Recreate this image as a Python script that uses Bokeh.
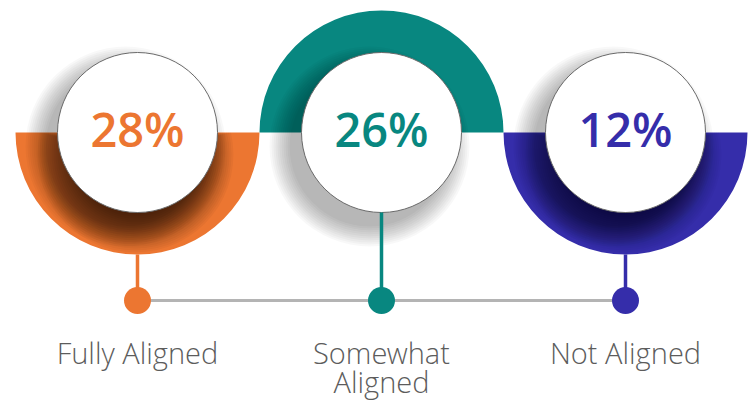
import math
from bokeh.plotting import figure
from bokeh.models import Range1d
from bokeh.core.properties import value
from bokeh.embed import file_html
from bokeh.resources import INLINE

# ---- data ----
categories = ["Fully Aligned", "Somewhat Aligned", "Not Aligned"]
label_lines = [["Fully Aligned"], ["Somewhat", "Aligned"], ["Not Aligned"]]
values = [28, 26, 12]
colors = ["#EC7631", "#088780", "#352DAA"]
ring_side = ["bottom", "top", "bottom"]

# ---- layout (reference-pixel space, y measured upward) ----
W, H = 750, 401
X0, STEP = 137, 244
CY = H - 132
R_OUT, R_CIRC = 122, 80
DOT_Y = H - 300
DOT_R = 13.5

xs = [X0 + i * STEP for i in range(len(values))]

p = figure(width=W, height=H, x_range=Range1d(0, W), y_range=Range1d(0, H),
           output_backend="svg", toolbar_location=None, min_border=0,
           x_axis_type=None, y_axis_type=None)
p.grid.visible = False
p.outline_line_color = None
p.background_fill_color = "white"
p.border_fill_color = "white"

starts = [math.pi if s == "bottom" else 0.0 for s in ring_side]
ends = [2 * math.pi if s == "bottom" else math.pi for s in ring_side]

# half rings
p.annular_wedge(x=xs, y=[CY] * 3, inner_radius=70, outer_radius=R_OUT,
                start_angle=starts, end_angle=ends, fill_color=colors,
                line_color=None)

# soft drop shadow of the white circles
SDX, SDY = -12, -14
for k in range(11):
    p.circle(x=[x + SDX for x in xs], y=[CY + SDY] * 3, radius=R_CIRC + 2 * k,
             fill_color="black", fill_alpha=0.026, line_color=None)

# inner shading on the lower half rings
RDX, RDY = -2, -22
for i, s in enumerate(ring_side):
    if s != "bottom":
        continue
    a = 0.034 if i == 0 else 0.022
    for k in range(20):
        r = 60 + 2 * k
        tilt = math.asin(min(1.0, -RDY / r))
        p.wedge(x=[xs[i] + RDX], y=[CY + RDY], radius=r,
                start_angle=math.pi - tilt, end_angle=2 * math.pi + tilt,
                fill_color="black", fill_alpha=a, line_color=None)

# white circles
p.circle(x=xs, y=[CY] * 3, radius=R_CIRC, fill_color="white",
         line_color="#6a6a6a", line_width=1)

# stems
stem_top = [CY - R_OUT if s == "bottom" else CY - R_CIRC for s in ring_side]
p.segment(x0=xs, y0=stem_top, x1=xs, y1=[DOT_Y] * 3, line_color=colors, line_width=3.5)

# connecting line
p.line(x=[xs[0], xs[-1]], y=[DOT_Y, DOT_Y], line_color="#b4b4b4", line_width=3)

# dots
p.circle(x=xs, y=[DOT_Y] * 3, radius=DOT_R, fill_color=colors, line_color=None)

# percentages
PCT_SIZE = 47
p.text(x=xs, y=[H - 147 + 0.4 * PCT_SIZE] * 3, text=[f"{v}%" for v in values],
       text_color=colors, text_font=value("'Open Sans SemiBold', 'Open Sans'"),
       text_font_size=f"{PCT_SIZE}px", text_font_style="normal",
       text_align="center", text_baseline="alphabetic")

# category labels
LBL_SIZE = 29
lx, ly, lt = [], [], []
for i, lines in enumerate(label_lines):
    for j, line in enumerate(lines):
        lx.append(xs[i])
        ly.append(H - 364 + 0.4 * LBL_SIZE - 29 * j)
        lt.append(line)
p.text(x=lx, y=ly, text=lt, text_color="#5c5c5c",
       text_font=value("'Open Sans Light', 'Open Sans'"), text_font_size=f"{LBL_SIZE}px",
       text_align="center", text_baseline="alphabetic")

open("out.html", "w").write(file_html(p, INLINE))
